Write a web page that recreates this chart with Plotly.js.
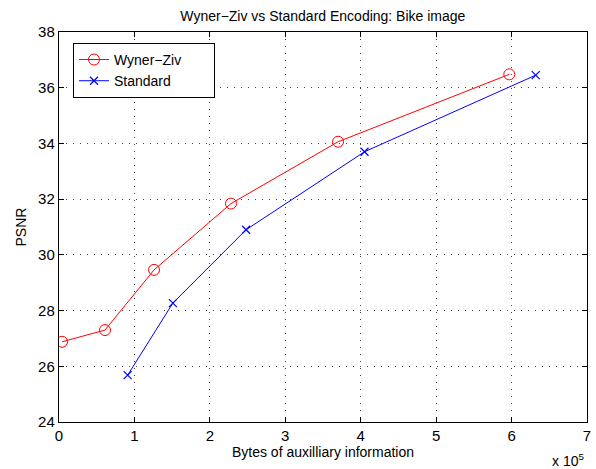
<!DOCTYPE html>
<html>
<head>
<meta charset="utf-8">
<script src="https://cdn.plot.ly/plotly-3.0.1.min.js"></script>
<style>html,body{margin:0;padding:0;background:#fff;}#chart{width:596px;height:469px;}</style>
</head>
<body>
<div id="chart"></div>
<script>
// Bytes of auxiliary information, in units of 1e5 bytes
var wzBytes = [0.04, 0.61, 1.26, 2.28, 3.70, 5.97];
var wzPSNR  = [26.88, 27.30, 29.46, 31.84, 34.06, 36.48];
var stdBytes = [0.91, 1.51, 2.48, 4.05, 6.32];
var stdPSNR  = [25.68, 28.27, 30.90, 33.70, 36.45];
var xTicks = [0, 1, 2, 3, 4, 5, 6, 7];
var yTicks = [24, 26, 28, 30, 32, 34, 36, 38];

var fam = 'Liberation Sans, Arial, sans-serif';
var font = {family: fam, size: 15, color: '#000'};

var traces = [
  {x: wzBytes, y: wzPSNR, name: 'Wyner\u2212Ziv\u00a0\u00a0\u00a0\u00a0\u00a0\u00a0\u00a0', mode: 'lines+markers',
   line: {color: '#ff0000', width: 1},
   marker: {symbol: 'circle-open', size: 11, color: '#ff0000', line: {width: 1, color: '#ff0000'}}},
  {x: stdBytes, y: stdPSNR, name: 'Standard', mode: 'lines+markers',
   line: {color: '#0000ff', width: 1},
   marker: {symbol: 'x-thin-open', size: 8, color: '#0000ff', line: {width: 1.2, color: '#0000ff'}}}
];

var axisCommon = {
  showline: true, linecolor: '#000', linewidth: 1.2, mirror: 'ticks',
  ticks: 'inside', ticklen: 5, tickcolor: '#000',
  showgrid: true, gridcolor: '#444', griddash: '1px,6px', gridwidth: 1,
  zeroline: false, tickfont: font
};

var layout = {
  width: 596, height: 469,
  margin: {l: 59, r: 9, t: 32, b: 47},
  paper_bgcolor: '#fff', plot_bgcolor: '#fff',
  title: {text: 'Wyner\u2212Ziv vs Standard Encoding: Bike image', font: {family: fam, size: 14, color: '#000'},
          x: 0.5417, xanchor: 'center', y: 0.966, yanchor: 'middle'},
  xaxis: Object.assign({}, axisCommon, {range: [0, 7], tickvals: xTicks, ticktext: xTicks.map(String),
    title: {text: 'Bytes of auxilliary information', font: {family: fam, size: 14, color: '#000'}, standoff: 2}}),
  yaxis: Object.assign({}, axisCommon, {range: [24, 38], tickvals: yTicks, ticktext: yTicks.map(String),
    title: {text: 'PSNR', font: {family: fam, size: 14, color: '#000'}, standoff: 8}}),
  showlegend: true,
  legend: {x: 0.0265, y: 0.972, xanchor: 'left', yanchor: 'top', bgcolor: '#fff', bordercolor: '#000', borderwidth: 1,
           font: {family: fam, size: 14, color: '#000'}, tracegroupgap: 0},
  annotations: [{xref: 'paper', yref: 'paper', x: 0.998, y: -0.126, xanchor: 'right', yanchor: 'bottom', showarrow: false,
                 text: 'x 10<sup>5</sup>', font: {family: fam, size: 14, color: '#000'}}]
};

Plotly.newPlot('chart', traces, layout, {displayModeBar: false, staticPlot: true});
</script>
</body>
</html>
